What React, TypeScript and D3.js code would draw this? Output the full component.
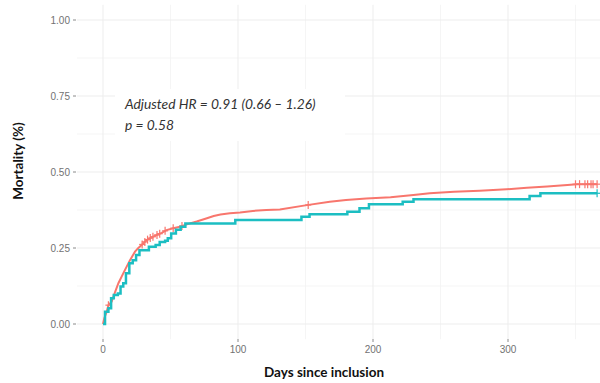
import * as d3 from 'd3';
import { type FC, useEffect, useRef } from 'react';

// Cumulative mortality, group 1 (red)
const redDays = [0, 1, 2.7, 4, 6.4, 9, 11.4, 13.8, 16.3, 20, 23.7, 26, 28.6, 32.4, 36, 40, 43.5, 47, 52, 57, 61, 64.4, 69.4, 77, 82, 87, 94, 101.5, 111, 121, 131, 151, 168, 180, 195, 213, 230, 242, 260, 279, 299, 314, 329, 344, 351, 366];
const redMortality = [0, 0.02, 0.04, 0.062, 0.073, 0.106, 0.134, 0.156, 0.178, 0.21, 0.238, 0.249, 0.26, 0.276, 0.285, 0.293, 0.3, 0.309, 0.315, 0.32, 0.326, 0.331, 0.337, 0.348, 0.355, 0.36, 0.364, 0.367, 0.372, 0.375, 0.377, 0.391, 0.402, 0.408, 0.413, 0.417, 0.424, 0.43, 0.435, 0.438, 0.443, 0.448, 0.452, 0.457, 0.46, 0.46];
const redCensored = [4, 29, 31, 33, 35, 37, 40, 42, 46, 52, 58.5, 152, 350, 353, 357, 359, 361.5, 363, 366];

// Cumulative mortality, group 2 (teal)
const tealDays = [0, 1.5, 4, 6, 8, 11, 13, 15, 17, 19.5, 22, 24.5, 27, 34, 39, 42, 46, 48, 50.5, 54, 57.5, 61, 98, 147, 153, 181, 190, 197, 222, 230, 316, 324, 366];
const tealMortality = [0, 0.04, 0.052, 0.085, 0.095, 0.1, 0.123, 0.134, 0.167, 0.2, 0.21, 0.227, 0.243, 0.254, 0.26, 0.27, 0.274, 0.282, 0.298, 0.31, 0.32, 0.331, 0.342, 0.353, 0.361, 0.369, 0.381, 0.394, 0.402, 0.41, 0.421, 0.43, 0.43];
const tealCensored = [366];

const yTicks = [0, 0.25, 0.5, 0.75, 1];
const yMinor = [0.125, 0.375, 0.625, 0.875];
const xTicks = [0, 100, 200, 300];
const xMinor = [50, 150, 250, 350];

const annotation = ['Adjusted HR = 0.91 (0.66 \u2013 1.26)', 'p = 0.58'];

const RED = '#F8766D';
const TEAL = '#1CBEC2';

const App: FC = () => {
  const svgRef = useRef<SVGSVGElement>(null);

  useEffect(() => {
    document.body.style.margin = '0';
    if (!svgRef.current) return;
    const svg = d3.select(svgRef.current);
    svg.selectAll('*').remove();

    const x = d3.scaleLinear().domain([0, 100]).range([103, 238]);
    const y = d3.scaleLinear().domain([0, 1]).range([324, 20]);

    const panel = { left: 77, right: 600, top: y(1.05), bottom: y(-0.05) };

    const grid = svg.append('g');
    grid.selectAll('.hmin').data(yMinor).join('line')
      .attr('x1', panel.left).attr('x2', panel.right)
      .attr('y1', (d) => y(d)).attr('y2', (d) => y(d))
      .attr('stroke', '#F2F2F2').attr('stroke-width', 0.8);
    grid.selectAll('.vmin').data(xMinor).join('line')
      .attr('x1', (d) => x(d)).attr('x2', (d) => x(d))
      .attr('y1', panel.top).attr('y2', panel.bottom)
      .attr('stroke', '#F2F2F2').attr('stroke-width', 0.8);
    grid.selectAll('.hmaj').data(yTicks).join('line')
      .attr('x1', panel.left).attr('x2', panel.right)
      .attr('y1', (d) => y(d)).attr('y2', (d) => y(d))
      .attr('stroke', '#EDEDED').attr('stroke-width', 1);
    grid.selectAll('.vmaj').data(xTicks).join('line')
      .attr('x1', (d) => x(d)).attr('x2', (d) => x(d))
      .attr('y1', panel.top).attr('y2', panel.bottom)
      .attr('stroke', '#EDEDED').attr('stroke-width', 1);

    // Axis ticks and labels
    const axes = svg.append('g').attr('font-family', 'Liberation Sans, Arial, sans-serif').attr('font-size', 10).attr('fill', '#727272');
    axes.selectAll('.yt').data(yTicks).join('line')
      .attr('x1', 73).attr('x2', 76).attr('y1', (d) => y(d)).attr('y2', (d) => y(d))
      .attr('stroke', '#8A8A8A').attr('stroke-width', 1);
    axes.selectAll('.yl').data(yTicks).join('text')
      .attr('x', 70).attr('y', (d) => y(d)).attr('dy', '0.35em').attr('text-anchor', 'end')
      .text((d) => d3.format('.2f')(d));
    axes.selectAll('.xt').data(xTicks).join('line')
      .attr('x1', (d) => x(d)).attr('x2', (d) => x(d)).attr('y1', 339).attr('y2', 342)
      .attr('stroke', '#8A8A8A').attr('stroke-width', 1);
    axes.selectAll('.xl').data(xTicks).join('text')
      .attr('x', (d) => x(d)).attr('y', 353).attr('text-anchor', 'middle')
      .text((d) => d);

    // Axis titles
    svg.append('text')
      .attr('transform', 'translate(23,161) rotate(-90)')
      .attr('text-anchor', 'middle').attr('font-family', 'Lato, sans-serif')
      .attr('font-weight', 700).attr('font-size', 13.5).attr('fill', '#111')
      .text('Mortality (%)');
    svg.append('text')
      .attr('x', 324).attr('y', 377).attr('text-anchor', 'middle')
      .attr('font-family', 'Lato, sans-serif').attr('font-weight', 700)
      .attr('font-size', 13.5).attr('fill', '#111')
      .text('Days since inclusion');

    // Annotation box
    svg.append('rect').attr('x', 115).attr('y', 89).attr('width', 230).attr('height', 52).attr('fill', '#fff');
    svg.selectAll('.ann').data(annotation).join('text')
      .attr('x', 125).attr('y', (_, i) => 109 + i * 21)
      .attr('font-family', 'Lato, sans-serif').attr('font-style', 'italic')
      .attr('font-size', 13.8).attr('fill', '#333')
      .text((d) => d);

    const series = [
      { days: redDays, vals: redMortality, censored: redCensored, color: RED, width: 2, curve: d3.curveLinear },
      { days: tealDays, vals: tealMortality, censored: tealCensored, color: TEAL, width: 2.5, curve: d3.curveStepAfter },
    ];

    series.forEach((s) => {
      const pts = s.days.map((d, i) => [d, s.vals[i]] as [number, number]);
      const line = d3.line<[number, number]>().x((d) => x(d[0])).y((d) => y(d[1])).curve(s.curve);
      svg.append('path').datum(pts).attr('d', line).attr('fill', 'none')
        .attr('stroke', s.color).attr('stroke-width', s.width);

      const valueAt = (t: number) => {
        const i = d3.bisectRight(s.days, t) - 1;
        if (s.curve === d3.curveStepAfter || i >= s.days.length - 1) return s.vals[Math.max(i, 0)];
        const f = (t - s.days[i]) / (s.days[i + 1] - s.days[i]);
        return s.vals[i] + f * (s.vals[i + 1] - s.vals[i]);
      };
      const marks = svg.append('g').attr('stroke', s.color).attr('stroke-width', 1.2);
      s.censored.forEach((t) => {
        const cx = x(t);
        const cy = y(valueAt(t));
        marks.append('line').attr('x1', cx).attr('x2', cx).attr('y1', cy - 4).attr('y2', cy + 4);
        marks.append('line').attr('x1', cx - 3).attr('x2', cx + 3).attr('y1', cy).attr('y2', cy);
      });
    });
  }, []);

  return <svg ref={svgRef} width={600} height={383} style={{ display: 'block', background: '#fff' }} />;
};

export default App;
